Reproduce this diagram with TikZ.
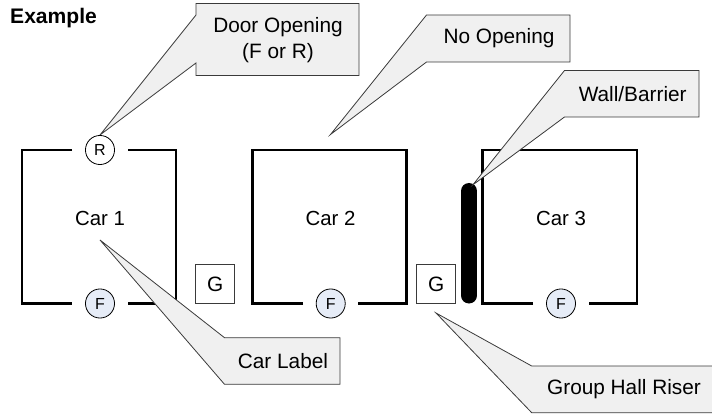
\documentclass[tikz,border=0pt]{standalone}
\usepackage{fontspec}
\setmainfont{Liberation Sans}
\definecolor{calloutgray}{HTML}{F0F0F0}
\definecolor{doorblue}{HTML}{E6ECF7}
\definecolor{edgegray}{HTML}{3A3A3A}
\tikzset{
  wall/.style={line width=1.95pt,line cap=butt,line join=miter},
  barrier/.style={line width=12pt,line cap=round},
  doorcircle/.style={circle,draw=black,line width=0.6pt,minimum size=21.8pt,inner sep=0pt,font=\fontsize{12}{12}\selectfont},
  rear/.style={doorcircle,fill=white},
  front/.style={doorcircle,fill=doorblue},
  riser/.style={draw=edgegray,line width=0.6pt,fill=white,minimum size=29pt,inner sep=0pt,font=\fontsize{15.6}{15.6}\selectfont},
  carlabel/.style={font=\fontsize{15.3}{15.3}\selectfont},
  callout/.style={draw=edgegray,line width=0.6pt,fill=calloutgray,line join=miter},
  callouttext/.style={font=\fontsize{15.6}{20}\selectfont,align=center}
}
\begin{document}
\begin{tikzpicture}[x=0.75pt,y=-0.75pt]
\useasboundingbox (0,0) rectangle (712,416);
% cars
\draw[wall] (72,150) -- (22,150) -- (22,303.5) -- (72,303.5);
\draw[wall] (128,150) -- (176,150) -- (176,303.5) -- (128,303.5);
\draw[wall] (303,303.5) -- (252.5,303.5) -- (252.5,150) -- (406.5,150) -- (406.5,303.5) -- (358,303.5);
\draw[wall] (533,303.5) -- (482.7,303.5) -- (482.7,150) -- (637,150) -- (637,303.5) -- (589,303.5);
\coordinate (wallTop) at (469,191);
\coordinate (wallBottom) at (469,295.5);
\draw[barrier] (wallTop) -- (wallBottom);
\node[carlabel] (car1) at (100,218.5) {Car 1};
\node[carlabel] (car2) at (330.5,218.5) {Car 2};
\node[carlabel] (car3) at (561,218.5) {Car 3};
\node[riser] (g1) at (215.2,284.2) {G};
\node[riser] (g2) at (436.2,284.2) {G};
% callouts
\coordinate (tipDoor) at (100,135);
\coordinate (tipNo) at (330.5,134.5);
\coordinate (tipWall) at (472.7,185);
\coordinate (tipCar) at (100,240);
\coordinate (tipRiser) at (436,313);
\draw[callout] (196,3.5) -- (359,3.5) -- (359,75.5) -- (196,75.5) -- (196,63) -- (tipDoor) -- (196,15) -- cycle;
\draw[callout] (426.5,15) -- (570,15) -- (570,62) -- (426.5,62) -- (tipNo) -- cycle;
\draw[callout] (564.5,70.5) -- (699,70.5) -- (699,117) -- (564.5,117) -- (tipWall) -- cycle;
\draw[callout] (224.5,337.7) -- (340,337.7) -- (340,384.3) -- (224.5,384.3) -- (tipCar) -- cycle;
\draw[callout] (531.7,366) -- (716,366) -- (716,412.7) -- (531.7,412.7) -- (tipRiser) -- cycle;
\node[callouttext] (lblDoor) at (278,40) {Door Opening\\(F or R)};
\node[callouttext] (lblNo) at (499,38.5) {No Opening};
\node[callouttext] (lblWall) at (632.7,94) {Wall/Barrier};
\node[callouttext] (lblCar) at (283,361) {Car Label};
\node[callouttext] (lblRiser) at (624,389) {Group Hall Riser};
% doors
\node[rear] (r1) at (100,150) {R};
\node[front] (f1) at (100,303.5) {F};
\node[front] (f2) at (330.7,303.5) {F};
\node[front] (f3) at (561,303.5) {F};
\node[anchor=west,font=\bfseries\fontsize{15.8}{15.8}\selectfont] (example) at (5.5,18.5) {Example};
\end{tikzpicture}
\end{document}
